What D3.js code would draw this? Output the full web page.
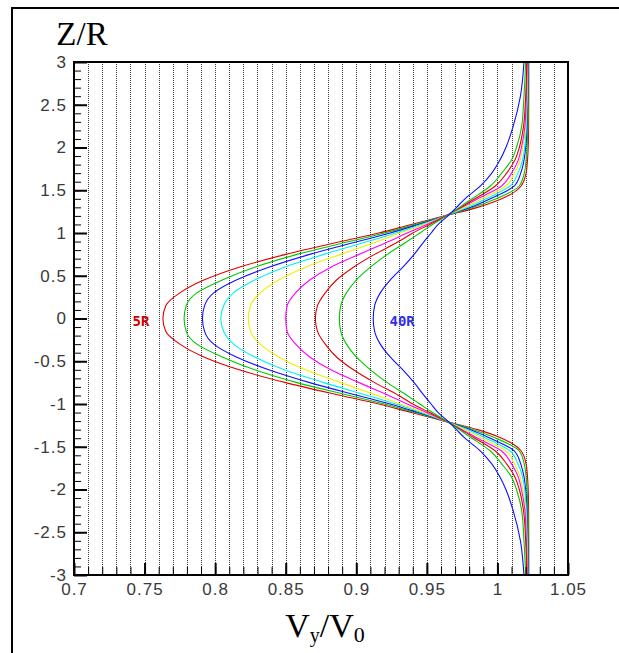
<!DOCTYPE html>
<html>
<head>
<meta charset="utf-8">
<script src="https://cdn.jsdelivr.net/npm/d3@7"></script>
<style>
  html, body { margin: 0; padding: 0; background: #fff; }
  svg { display: block; }
</style>
</head>
<body>
<svg id="chart" width="619" height="653"></svg>
<script>
// Vertical positions Z/R at which each velocity profile is sampled
const zLevels = [
  -3.0, -2.6, -2.25, -2.0, -1.85, -1.7, -1.55, -1.4, -1.3, -1.2, -1.1, -1.0,
  -0.9, -0.75, -0.6, -0.45, -0.3, -0.15, 0,
  0.15, 0.3, 0.45, 0.6, 0.75, 0.9, 1.0, 1.1, 1.2, 1.3, 1.4, 1.55, 1.7, 1.85,
  2.0, 2.25, 2.6, 3.0
];

// Vy/V0 profiles, one per downstream distance (5R ... 40R)
const profile5R = [
  1.0222, 1.0222, 1.0221, 1.0218, 1.0213, 1.0203, 1.0168, 1.003, 0.986, 0.9625, 0.939, 0.916,
  0.889, 0.850, 0.817, 0.792, 0.775, 0.765, 0.763,
  0.765, 0.775, 0.792, 0.817, 0.850, 0.889, 0.916, 0.939, 0.9625, 0.986, 1.003, 1.0168, 1.0203, 1.0213,
  1.0218, 1.0221, 1.0222, 1.0222
];
const profile7R = [
  1.022, 1.0219, 1.0216, 1.021, 1.0203, 1.019, 1.0155, 0.999, 0.983, 0.963, 0.942, 0.920,
  0.895, 0.858, 0.828, 0.805, 0.787, 0.7795, 0.778,
  0.7795, 0.787, 0.805, 0.828, 0.858, 0.895, 0.920, 0.942, 0.963, 0.983, 0.999, 1.0155, 1.019, 1.0203,
  1.021, 1.0216, 1.0219, 1.022
];
const profile10R = [
  1.0218, 1.0215, 1.021, 1.020, 1.0188, 1.0165, 1.012, 0.995, 0.981, 0.963, 0.944, 0.924,
  0.901, 0.867, 0.838, 0.815, 0.799, 0.7925, 0.791,
  0.7925, 0.799, 0.815, 0.838, 0.867, 0.901, 0.924, 0.944, 0.963, 0.981, 0.995, 1.012, 1.0165, 1.0188,
  1.020, 1.021, 1.0215, 1.0218
];
const profile12R = [
  1.0216, 1.0212, 1.0205, 1.0193, 1.0178, 1.0145, 1.009, 0.992, 0.979, 0.963, 0.946, 0.928,
  0.908, 0.877, 0.849, 0.828, 0.813, 0.806, 0.804,
  0.806, 0.813, 0.828, 0.849, 0.877, 0.908, 0.928, 0.946, 0.963, 0.979, 0.992, 1.009, 1.0145, 1.0178,
  1.0193, 1.0205, 1.0212, 1.0216
];
const profile15R = [
  1.0213, 1.0208, 1.020, 1.018, 1.016, 1.012, 1.006, 0.989, 0.977, 0.963, 0.948, 0.931,
  0.915, 0.889, 0.864, 0.845, 0.832, 0.825, 0.8235,
  0.825, 0.832, 0.845, 0.864, 0.889, 0.915, 0.931, 0.948, 0.963, 0.977, 0.989, 1.006, 1.012, 1.016,
  1.018, 1.020, 1.0208, 1.0213
];
const profile20R = [
  1.0211, 1.0205, 1.0195, 1.017, 1.0147, 1.010, 1.003, 0.986, 0.975, 0.963, 0.950, 0.936,
  0.923, 0.902, 0.882, 0.867, 0.857, 0.851, 0.850,
  0.851, 0.857, 0.867, 0.882, 0.902, 0.923, 0.936, 0.950, 0.963, 0.975, 0.986, 1.003, 1.010, 1.0147,
  1.017, 1.0195, 1.0205, 1.0211
];
const profile25R = [
  1.0208, 1.020, 1.0185, 1.0155, 1.0123, 1.0065, 0.9985, 0.984, 0.974, 0.9635, 0.952, 0.940,
  0.930, 0.913, 0.898, 0.886, 0.878, 0.8725, 0.871,
  0.8725, 0.878, 0.886, 0.898, 0.913, 0.930, 0.940, 0.952, 0.9635, 0.974, 0.984, 0.9985, 1.0065, 1.0123,
  1.0155, 1.0185, 1.020, 1.0208
];
const profile30R = [
  1.020, 1.0188, 1.0172, 1.0135, 1.0099, 1.003, 0.995, 0.982, 0.973, 0.964, 0.954, 0.945,
  0.936, 0.922, 0.910, 0.900, 0.893, 0.889, 0.888,
  0.889, 0.893, 0.900, 0.910, 0.922, 0.936, 0.945, 0.954, 0.964, 0.973, 0.982, 0.995, 1.003, 1.0099,
  1.0135, 1.0172, 1.0188, 1.020
];
const profile40R = [
  1.0188, 1.0163, 1.0112, 1.006, 1.0017, 0.996, 0.988, 0.977, 0.971, 0.965, 0.958, 0.953,
  0.948, 0.941, 0.933, 0.924, 0.917, 0.913, 0.912,
  0.913, 0.917, 0.924, 0.933, 0.941, 0.948, 0.953, 0.958, 0.965, 0.971, 0.977, 0.988, 0.996, 1.0017,
  1.006, 1.0112, 1.0163, 1.0188
];

const seriesNames  = ["5R", "7R", "10R", "12R", "15R", "20R", "25R", "30R", "40R"];
const seriesValues = [profile5R, profile7R, profile10R, profile12R, profile15R,
                      profile20R, profile25R, profile30R, profile40R];
const seriesColors = ["#e00000", "#00c800", "#1010ff", "#00f0f0", "#f0f000",
                      "#ff00ff", "#e00000", "#00c800", "#1010ff"];

// Axis ticks
const xTickValues = [0.7, 0.75, 0.8, 0.85, 0.9, 0.95, 1, 1.05];
const xTickLabels = ["0.7", "0.75", "0.8", "0.85", "0.9", "0.95", "1", "1.05"];
const yTickValues = [-3, -2.5, -2, -1.5, -1, -0.5, 0, 0.5, 1, 1.5, 2, 2.5, 3];
const yTickLabels = ["-3", "-2.5", "-2", "-1.5", "-1", "-0.5", "0", "0.5", "1", "1.5", "2", "2.5", "3"];

// Curve annotations: [text, Vy/V0, Z/R, colour]
const curveLabels = [["5R", 0.7475, 0, "#d40000"], ["40R", 0.9325, 0, "#3030e8"]];

const svg = d3.select("#chart");
const plot = { left: 74, right: 568, top: 62, bottom: 575 };

const x = d3.scaleLinear().domain([0.7, 1.05]).range([plot.left, plot.right]);
const y = d3.scaleLinear().domain([-3, 3]).range([plot.bottom, plot.top]);

// Outer frame
svg.append("rect")
  .attr("x", 12).attr("y", 8).attr("width", 700).attr("height", 700)
  .attr("fill", "none").attr("stroke", "#000").attr("stroke-width", 2);

// Dotted vertical grid every 0.01
const gridValues = d3.range(71, 105).map(d => d / 100);
svg.append("g").selectAll("line").data(gridValues).join("line")
  .attr("x1", d => Math.round(x(d)) + 0.5).attr("x2", d => Math.round(x(d)) + 0.5)
  .attr("y1", plot.top).attr("y2", plot.bottom)
  .attr("stroke", "#3a3a3a").attr("stroke-width", 1)
  .attr("stroke-dasharray", "1,1");

// Profiles
const line = d3.line()
  .x(d => x(d.v))
  .y(d => y(d.z))
  .curve(d3.curveMonotoneY);

svg.append("g").selectAll("path").data(seriesValues).join("path")
  .attr("d", vals => line(zLevels.map((z, i) => ({ z, v: vals[i] })).reverse()))
  .attr("fill", "none")
  .attr("stroke", (d, i) => seriesColors[i])
  .attr("stroke-width", 1.1);

// Curve labels
svg.append("g").selectAll("text").data(curveLabels).join("text")
  .attr("x", d => x(d[1])).attr("y", d => y(d[2]) + 7)
  .attr("text-anchor", "middle")
  .attr("font-family", "'DejaVu Sans Mono', monospace")
  .attr("font-weight", "bold").attr("font-size", 14)
  .attr("fill", d => d[3])
  .text(d => d[0]);

// Axes with inward ticks
const tickFont = g => g.selectAll("text")
  .attr("font-family", "'Liberation Sans', Arial, sans-serif")
  .attr("font-size", 17).attr("fill", "#3a3a3a")
  .attr("letter-spacing", "1px");

const yMinor = d3.range(-30, 31).map(d => d / 10);
svg.append("g").attr("transform", `translate(${plot.left},0)`)
  .call(d3.axisLeft(y).tickValues(yMinor).tickSize(-7).tickFormat(""))
  .call(g => g.select(".domain").remove())
  .call(g => g.selectAll("line").attr("stroke", "#000").attr("stroke-width", 1));
svg.append("g").attr("transform", `translate(${plot.left},0)`)
  .call(d3.axisLeft(y).tickValues(yTickValues).tickSize(-13).tickPadding(7)
    .tickFormat((d, i) => yTickLabels[i]))
  .call(g => g.select(".domain").remove())
  .call(g => g.selectAll("line").attr("stroke", "#000").attr("stroke-width", 2))
  .call(tickFont);

const xMinor = d3.range(70, 106).map(d => d / 100);
svg.append("g").attr("transform", `translate(0,${plot.bottom})`)
  .call(d3.axisBottom(x).tickValues(xMinor).tickSize(-8).tickFormat(""))
  .call(g => g.select(".domain").remove())
  .call(g => g.selectAll("line").attr("stroke", "#000").attr("stroke-width", 1));
svg.append("g").attr("transform", `translate(0,${plot.bottom})`)
  .call(d3.axisBottom(x).tickValues(xTickValues).tickSize(-12).tickPadding(8)
    .tickFormat((d, i) => xTickLabels[i]))
  .call(g => g.select(".domain").remove())
  .call(g => g.selectAll("line").attr("stroke", "#000").attr("stroke-width", 2))
  .call(tickFont);

// Plot border
svg.append("rect")
  .attr("x", plot.left).attr("y", plot.top)
  .attr("width", plot.right - plot.left).attr("height", plot.bottom - plot.top)
  .attr("fill", "none").attr("stroke", "#000").attr("stroke-width", 2);

// Axis titles
svg.append("text")
  .attr("x", 82).attr("y", 45).attr("text-anchor", "middle")
  .attr("font-family", "'Liberation Serif', 'Times New Roman', serif")
  .attr("font-size", 33).attr("fill", "#000")
  .text("Z/R");

const xTitle = svg.append("text")
  .attr("x", (plot.left + plot.right) / 2 + 4).attr("y", 637).attr("text-anchor", "middle")
  .attr("font-family", "'Liberation Serif', 'Times New Roman', serif")
  .attr("font-size", 34).attr("fill", "#000");
xTitle.append("tspan").text("V");
xTitle.append("tspan").attr("font-size", 20).attr("dy", 5).text("y");
xTitle.append("tspan").attr("dy", -5).text("/V");
xTitle.append("tspan").attr("font-size", 22).attr("dy", 5).text("0");
</script>
</body>
</html>
